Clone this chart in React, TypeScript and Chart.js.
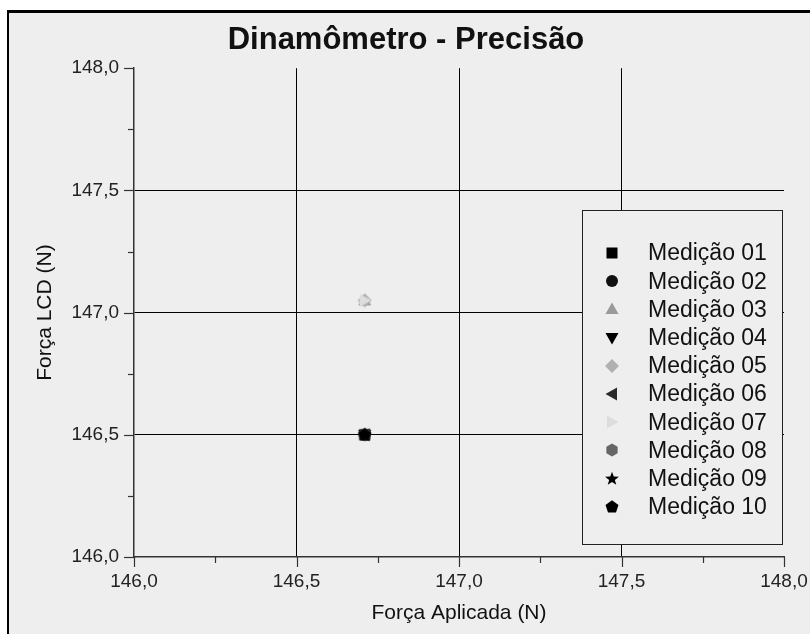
import React, { useEffect, useRef } from 'react';
import { Chart, registerables } from 'chart.js';

Chart.register(...registerables);

const seriesNames = [
  'Medição 01', 'Medição 02', 'Medição 03', 'Medição 04', 'Medição 05',
  'Medição 06', 'Medição 07', 'Medição 08', 'Medição 09', 'Medição 10',
];
const forcaAplicada = [146.71, 146.71, 146.71, 146.71, 146.71, 146.71, 146.71, 146.71, 146.71, 146.71];
const forcaLCD = [146.5, 146.5, 147.05, 146.5, 147.05, 146.5, 147.05, 146.5, 146.5, 146.5];
const markerShapes = ['square', 'circle', 'triangleUp', 'triangleDown', 'diamond', 'triangleLeft', 'triangleRight', 'hexagon', 'star', 'pentagon'];
const markerColors = ['#000000', '#111111', '#9a9a9a', '#000000', '#b0b0b0', '#2a2a2a', '#dddddd', '#666666', '#000000', '#000000'];

const xTickValues = [146, 146.5, 147, 147.5, 148];
const xTickLabels = ['146,0', '146,5', '147,0', '147,5', '148,0'];
const yTickValues = [146, 146.5, 147, 147.5, 148];
const yTickLabels = ['146,0', '146,5', '147,0', '147,5', '148,0'];
const minorTickValues = [146.25, 146.75, 147.25, 147.75];
const gridValues = [146.5, 147, 147.5];

const FONT = '"Liberation Sans", Arial, sans-serif';
const MS = 16;

function makeMarker(shape: string, color: string) {
  const c = document.createElement('canvas');
  c.width = MS; c.height = MS;
  const g = c.getContext('2d')!;
  g.translate(MS / 2, MS / 2);
  g.fillStyle = color;
  g.beginPath();
  const poly = (pts: number[][]) => {
    pts.forEach((p, i) => (i === 0 ? g.moveTo(p[0], p[1]) : g.lineTo(p[0], p[1])));
    g.closePath();
  };
  const reg = (n: number, r: number) => {
    const pts: number[][] = [];
    for (let k = 0; k < n; k++) {
      const a = -Math.PI / 2 + (k * 2 * Math.PI) / n;
      pts.push([r * Math.cos(a), r * Math.sin(a)]);
    }
    poly(pts);
  };
  switch (shape) {
    case 'square': g.rect(-5.5, -5.5, 11, 11); break;
    case 'circle': g.arc(0, 0, 6, 0, Math.PI * 2); break;
    case 'triangleUp': poly([[0, -6.5], [6.5, 5], [-6.5, 5]]); break;
    case 'triangleDown': poly([[0, 6.5], [6.5, -5], [-6.5, -5]]); break;
    case 'diamond': poly([[0, -7], [7, 0], [0, 7], [-7, 0]]); break;
    case 'triangleLeft': poly([[-6.5, 0], [5, -6.5], [5, 6.5]]); break;
    case 'triangleRight': poly([[6.5, 0], [-5, -6.5], [-5, 6.5]]); break;
    case 'hexagon': reg(6, 6.5); break;
    case 'pentagon': reg(5, 6.8); break;
    case 'star': {
      const pts: number[][] = [];
      for (let k = 0; k < 10; k++) {
        const r = k % 2 === 0 ? 7.2 : 3;
        const a = -Math.PI / 2 + (k * Math.PI) / 5;
        pts.push([r * Math.cos(a), r * Math.sin(a)]);
      }
      poly(pts);
      break;
    }
  }
  g.fill();
  return c;
}

function labelFor(values: number[], labels: string[], v: number) {
  const i = values.findIndex((t) => Math.abs(t - v) < 1e-6);
  return i >= 0 ? labels[i] : '';
}

export default function App() {
  const ref = useRef<HTMLCanvasElement>(null);
  useEffect(() => {
    const markers = markerShapes.map((s, i) => makeMarker(s, markerColors[i]));

    const decorPlugin = {
      id: 'decor',
      afterDraw(chart: any) {
        const { ctx, chartArea } = chart;
        const xs = chart.scales.x;
        const ys = chart.scales.y;
        ctx.save();
        ctx.strokeStyle = '#333';
        ctx.lineWidth = 1.2;
        const all = [...xTickValues.map((v) => [v, 10]), ...minorTickValues.map((v) => [v, 6])];
        all.forEach(([v, len]) => {
          const px = Math.round(xs.getPixelForValue(v)) + 0.5;
          ctx.beginPath();
          ctx.moveTo(px, chartArea.bottom);
          ctx.lineTo(px, chartArea.bottom + len);
          ctx.stroke();
        });
        const allY = [...yTickValues.map((v) => [v, 10]), ...minorTickValues.map((v) => [v, 6])];
        allY.forEach(([v, len]) => {
          const py = Math.round(ys.getPixelForValue(v)) + 0.5;
          ctx.beginPath();
          ctx.moveTo(chartArea.left, py);
          ctx.lineTo(chartArea.left - len, py);
          ctx.stroke();
        });

        // legend
        const right = chartArea.right - 1;
        const bottom = chartArea.bottom - 12;
        const w = 201, h = 335;
        const left = right - w, top = bottom - h;
        ctx.fillStyle = '#eeeeee';
        ctx.fillRect(left, top, w, h);
        ctx.strokeStyle = '#222';
        ctx.lineWidth = 1;
        ctx.strokeRect(left + 0.5, top + 0.5, w - 1, h - 1);
        ctx.font = '23px ' + FONT;
        ctx.fillStyle = '#111';
        ctx.textBaseline = 'middle';
        ctx.textAlign = 'left';
        chart.data.datasets.forEach((ds: any, i: number) => {
          const y = top + 43 + i * 28.2;
          ctx.drawImage(markers[i], Math.round(left + 30 - MS / 2), Math.round(y - MS / 2));
          ctx.fillText(ds.label, left + 66, y + 1);
        });
        ctx.restore();
      },
    };

    const gridColor = (c: any) =>
      c.tick && gridValues.some((g) => Math.abs(g - c.tick.value) < 1e-6) ? '#000000' : 'rgba(0,0,0,0)';

    const chart = new Chart(ref.current!, {
      type: 'scatter',
      data: {
        datasets: seriesNames.map((name, i) => ({
          label: name,
          data: [{ x: forcaAplicada[i], y: forcaLCD[i] }],
          pointStyle: markers[i] as any,
          pointRadius: 7,
          backgroundColor: markerColors[i],
          borderColor: markerColors[i],
          order: 10 - i,
        })),
      },
      options: {
        responsive: false,
        animation: false,
        events: [],
        layout: { padding: { left: 0, right: 7, top: 0, bottom: 0 } },
        plugins: {
          legend: { display: false },
          tooltip: { enabled: false },
          title: {
            display: true,
            text: 'Dinamômetro - Precisão',
            color: '#111',
            font: { family: FONT, size: 31, weight: 'bold' },
            padding: { top: 9, bottom: 9 },
          },
        },
        scales: {
          x: {
            type: 'linear',
            min: 146,
            max: 148,
            afterFit: (s: any) => {
              s.height = 77;
              s.paddingLeft = 0;
              s.paddingRight = 26;
            },
            ticks: {
              stepSize: 0.5,
              color: '#222',
              font: { family: FONT, size: 19 },
              padding: 13,
              callback: (v: any) => labelFor(xTickValues, xTickLabels, Number(v)),
            },
            grid: { color: gridColor, lineWidth: 1, drawTicks: false },
            border: { display: true, color: '#333', width: 1.5 },
            title: {
              display: true,
              text: 'Força Aplicada (N)',
              color: '#111',
              font: { family: FONT, size: 21 },
              padding: { top: 0, bottom: 8 },
            },
          },
          y: {
            type: 'linear',
            min: 146,
            max: 148,
            afterFit: (s: any) => { s.width = 125; },
            ticks: {
              stepSize: 0.5,
              color: '#222',
              font: { family: FONT, size: 19 },
              padding: 15,
              callback: (v: any) => labelFor(yTickValues, yTickLabels, Number(v)),
            },
            grid: { color: gridColor, lineWidth: 1, drawTicks: false },
            border: { display: true, color: '#333', width: 1.5 },
            title: {
              display: true,
              text: 'Força LCD (N)',
              color: '#111',
              font: { family: FONT, size: 21 },
              padding: { top: 24, bottom: 0 },
            },
          },
        },
      },
      plugins: [decorPlugin],
    } as any);
    return () => chart.destroy();
  }, []);

  return (
    <div
      style={{
        position: 'fixed',
        left: 7,
        top: 10,
        width: 803,
        height: 624,
        boxSizing: 'border-box',
        borderTop: '3px solid #000',
        borderLeft: '2px solid #000',
        background: '#eeeeee',
      }}
    >
      <canvas ref={ref} width={801} height={621} style={{ display: 'block', width: 801, height: 621 }} />
    </div>
  );
}
